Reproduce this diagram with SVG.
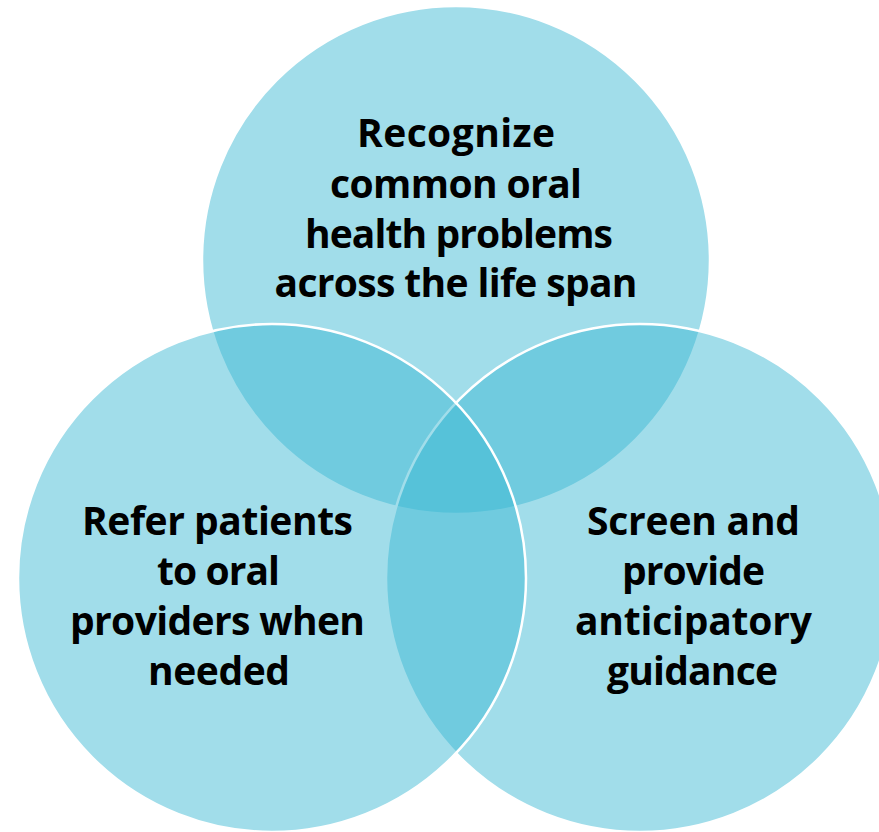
<svg xmlns="http://www.w3.org/2000/svg" width="879" height="832" viewBox="0 0 879 832">
<style>
.c{fill:#3BB7D3;fill-opacity:0.48;stroke:#FFFFFF;stroke-width:2.5}
.t{font-family:"Open Sans","Noto Sans","Liberation Sans",sans-serif;font-weight:bold;font-size:39px;fill:#000000;text-anchor:middle}
</style>
<rect x="0" y="0" width="879" height="832" fill="#FFFFFF"/>
<g id="node-recognize">
<circle class="c" cx="456" cy="260" r="254"/>
<text class="t" x="456" y="147" textLength="198">Recognize</text>
<text class="t" x="456" y="198" textLength="252">common oral</text>
<text class="t" x="459" y="248" textLength="308">health problems</text>
<text class="t" x="456" y="297" textLength="363">across the life span</text>
</g>
<g id="node-screen">
<circle class="c" cx="640" cy="578" r="254"/>
<text class="t" x="693.5" y="535" textLength="213">Screen and</text>
<text class="t" x="693.5" y="585" textLength="143">provide</text>
<text class="t" x="693.5" y="635" textLength="237">anticipatory</text>
<text class="t" x="692.5" y="685" textLength="171">guidance</text>
</g>
<g id="node-refer">
<circle class="c" cx="272" cy="578" r="254"/>
<text class="t" x="217.5" y="535" textLength="271">Refer patients</text>
<text class="t" x="218.5" y="585" textLength="123">to oral</text>
<text class="t" x="217.5" y="635" textLength="295">providers when</text>
<text class="t" x="219" y="685" textLength="142">needed</text>
</g>
<g id="connectors"></g>
</svg>
